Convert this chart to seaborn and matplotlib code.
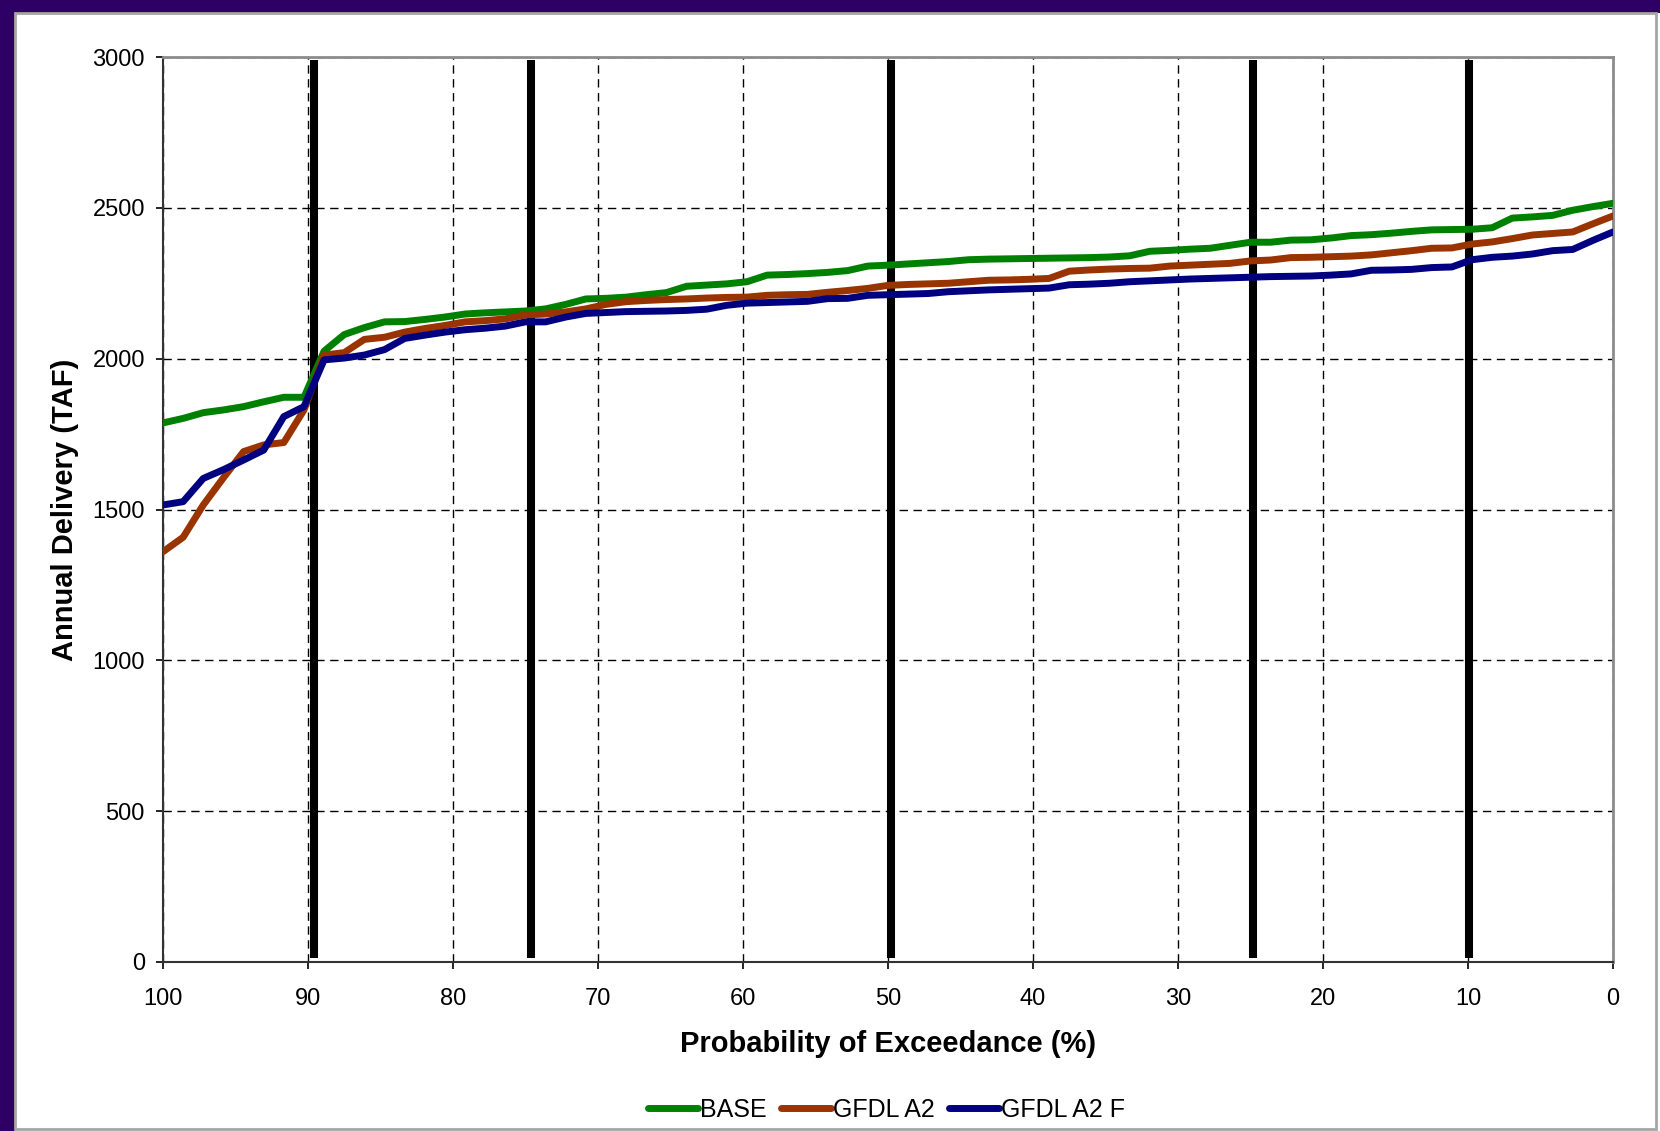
import numpy as np
import pandas as pd
import matplotlib
matplotlib.use('Agg')
import matplotlib.pyplot as plt
from matplotlib.patches import Rectangle
import seaborn as sns

# annual delivery (TAF), sorted high exceedance -> low exceedance
base = [1787, 1802, 1821, 1830, 1841, 1857, 1872, 1872, 2025, 2080,
        2103, 2122, 2123, 2130, 2138, 2148, 2152, 2155, 2158, 2165,
        2180, 2198, 2200, 2204, 2212, 2219, 2240, 2244, 2248, 2255,
        2277, 2279, 2282, 2286, 2292, 2307, 2310, 2314, 2318, 2322,
        2328, 2330, 2331, 2332, 2333, 2334, 2335, 2337, 2341, 2356,
        2359, 2363, 2366, 2376, 2386, 2386, 2393, 2394, 2400, 2408,
        2411, 2416, 2422, 2427, 2428, 2429, 2434, 2466, 2470, 2475,
        2492, 2504, 2515]
gfdl_a2 = [1360, 1408, 1515, 1605, 1692, 1714, 1722, 1830, 2012, 2020,
           2064, 2071, 2088, 2100, 2110, 2122, 2126, 2132, 2145, 2148,
           2155, 2165, 2180, 2189, 2193, 2196, 2198, 2201, 2203, 2204,
           2210, 2212, 2213, 2220, 2226, 2233, 2243, 2246, 2248, 2250,
           2255, 2260, 2261, 2263, 2266, 2290, 2294, 2297, 2299, 2300,
           2307, 2310, 2313, 2316, 2324, 2327, 2335, 2336, 2338, 2340,
           2344, 2351, 2358, 2366, 2367, 2380, 2387, 2398, 2410, 2415,
           2420, 2447, 2473]
gfdl_a2_f = [1515, 1526, 1603, 1632, 1664, 1697, 1808, 1841, 1996, 2002,
             2012, 2030, 2067, 2078, 2088, 2096, 2101, 2108, 2122, 2122,
             2138, 2150, 2153, 2156, 2157, 2158, 2160, 2164, 2177, 2184,
             2186, 2188, 2190, 2199, 2200, 2210, 2212, 2214, 2216, 2222,
             2225, 2228, 2230, 2232, 2234, 2245, 2247, 2250, 2255, 2258,
             2261, 2264, 2266, 2268, 2270, 2272, 2273, 2274, 2277, 2281,
             2293, 2294, 2296, 2302, 2304, 2328, 2336, 2340, 2347, 2358,
             2362, 2392, 2420]

series_names = ['BASE', 'GFDL A2', 'GFDL A2 F']
colors = ['#008000', '#993300', '#000080']

# exceedance levels marked with heavy black lines
marker_levels = [89.6, 74.6, 49.8, 24.8, 9.9]

x_ticks = [100, 90, 80, 70, 60, 50, 40, 30, 20, 10, 0]
y_ticks = [0, 500, 1000, 1500, 2000, 2500, 3000]

# plotting position: rank based exceedance probability
n = len(base)
exceed = 100.0 * (1 - np.arange(n) / (n - 1))

df = pd.concat([
    pd.DataFrame({'exceed': exceed, 'delivery': vals, 'run': name})
    for name, vals in zip(series_names, [base, gfdl_a2, gfdl_a2_f])
])

sns.set_theme(style='white')
plt.rcParams['font.family'] = ['Liberation Sans', 'DejaVu Sans']
plt.rcParams['text.color'] = 'black'
plt.rcParams['axes.labelcolor'] = 'black'

fig = plt.figure(figsize=(16.6, 11.31), dpi=100, facecolor='#2E0066')
fig.patches.append(Rectangle((15 / 1660, 0), 1, 1 - 13 / 1131, transform=fig.transFigure,
                             facecolor='white', edgecolor='none', zorder=-2))
fig.patches.append(Rectangle((15 / 1660, 2 / 1131), 1641 / 1660, 1116 / 1131,
                             transform=fig.transFigure, facecolor='none',
                             edgecolor='#A6A6A6', linewidth=2, zorder=-1))

ax = fig.add_axes([163 / 1660, 1 - 962 / 1131, 1450 / 1660, 905 / 1131])
ax.set_facecolor('white')

for lvl in marker_levels:
    ax.axvline(lvl, ymin=0.004, ymax=0.997, color='black', linewidth=5.8,
               solid_capstyle='butt', zorder=2)

sns.lineplot(data=df, x='exceed', y='delivery', hue='run', palette=colors,
             linewidth=5, legend=False, ax=ax, zorder=3)

ax.set_xlim(100, 0)
ax.set_ylim(0, 3000)
ax.set_xticks(x_ticks)
ax.set_yticks(y_ticks)
ax.grid(True, color='black', linestyle=(0, (6, 4)), linewidth=1.0, zorder=1)
ax.set_axisbelow(True)

for side in ['top', 'right']:
    ax.spines[side].set_color('#8C8C8C')
    ax.spines[side].set_linewidth(2)
for side in ['left', 'bottom']:
    ax.spines[side].set_color('#333333')
    ax.spines[side].set_linewidth(1.5)

ax.tick_params(axis='both', labelsize=17, colors='black', length=5, width=1.2, direction='out')
ax.tick_params(axis='x', pad=14)
ax.tick_params(axis='y', pad=8)
ax.xaxis.set_ticks_position('bottom')
ax.yaxis.set_ticks_position('left')

ax.set_xlabel('Probability of Exceedance (%)', fontsize=21, fontweight='bold', labelpad=14)
ax.set_ylabel('Annual Delivery (TAF)', fontsize=21, fontweight='bold', labelpad=10)

handles = [plt.Line2D([], [], color=c, linewidth=5, solid_capstyle='round') for c in colors]
fig.legend(handles, series_names, loc='center', bbox_to_anchor=(0.534, 0.019), ncol=3,
           frameon=False, fontsize=18, handlelength=2.0, handletextpad=0.1,
           columnspacing=0.55)

fig.savefig('out.png', dpi=100, facecolor=fig.get_facecolor())
